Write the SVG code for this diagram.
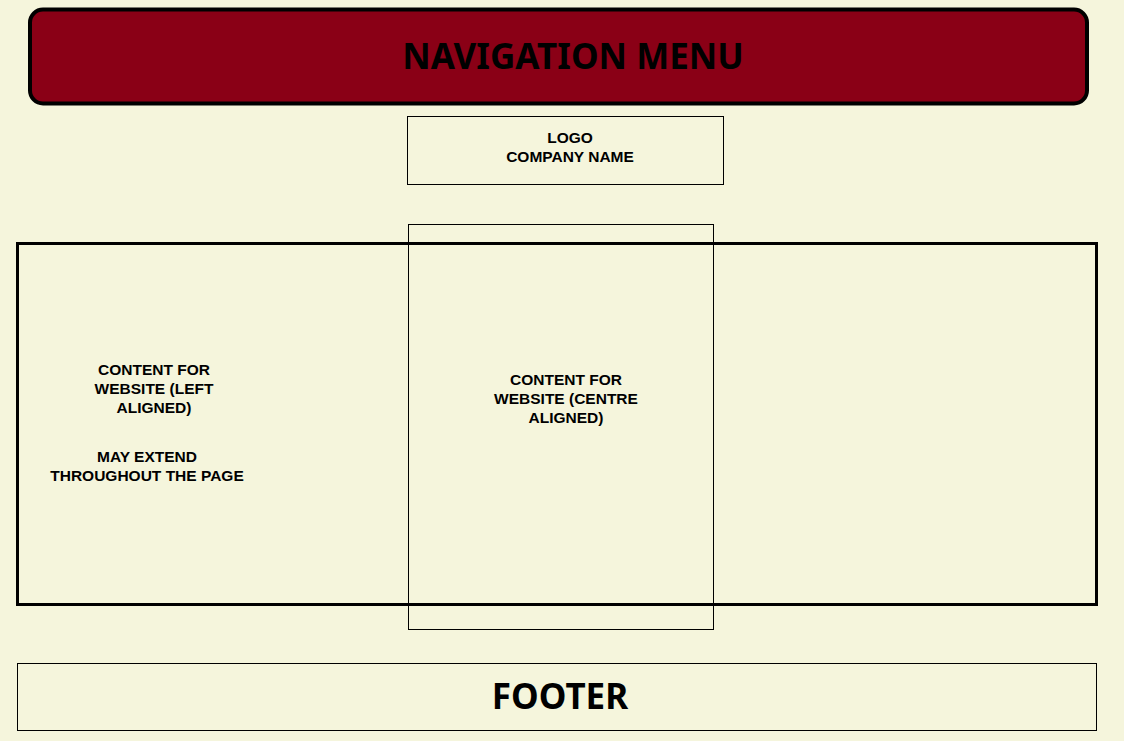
<svg xmlns="http://www.w3.org/2000/svg" width="1124" height="741" viewBox="0 0 1124 741">
<style>
.t{font-family:"Noto Sans","Open Sans","DejaVu Sans",sans-serif;font-weight:bold;fill:#000;text-anchor:middle}
.s{font-family:"Liberation Sans",Arial,sans-serif;font-size:15.5px}
.box{fill:none;stroke:#000}
</style>
<rect x="0" y="0" width="1124" height="741" fill="#F5F5DC"/>
<g id="nav">
<rect x="30" y="9.5" width="1057" height="94" rx="13" fill="#8A0016" stroke="#000" stroke-width="4"/>
<text class="t" x="573" y="69" font-size="35">NAVIGATION MENU</text>
</g>
<g id="logo">
<rect class="box" x="407.5" y="116.5" width="316" height="68" stroke-width="1"/>
<text class="t s" x="570" y="143">LOGO</text>
<text class="t s" x="570" y="162">COMPANY NAME</text>
</g>
<g id="main">
<rect class="box" x="17.5" y="243.5" width="1079" height="361" stroke-width="3"/>
<text class="t s" x="154" y="375">CONTENT FOR</text>
<text class="t s" x="154" y="394">WEBSITE (LEFT</text>
<text class="t s" x="154" y="413">ALIGNED)</text>
<text class="t s" x="147" y="462">MAY EXTEND</text>
<text class="t s" x="147" y="481">THROUGHOUT THE PAGE</text>
</g>
<g id="centre">
<rect class="box" x="408.5" y="224.5" width="305" height="405" stroke-width="1"/>
<text class="t s" x="566" y="385">CONTENT FOR</text>
<text class="t s" x="566" y="404">WEBSITE (CENTRE</text>
<text class="t s" x="566" y="423">ALIGNED)</text>
</g>
<g id="footer">
<rect class="box" x="17.5" y="663.5" width="1079" height="67" stroke-width="1"/>
<text class="t" x="560" y="709" font-size="35">FOOTER</text>
</g>
<g id="connectors"></g>
</svg>
